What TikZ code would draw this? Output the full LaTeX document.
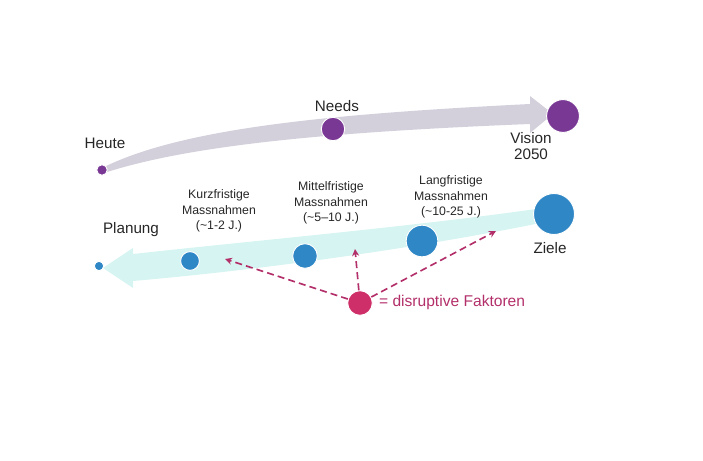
\documentclass[tikz,border=0pt]{standalone}
\usepackage{fontspec}
\setmainfont{Liberation Sans}
\usetikzlibrary{arrows.meta}
\definecolor{violett}{HTML}{7A3895}
\definecolor{blau}{HTML}{2F87C6}
\definecolor{magenta}{HTML}{CF2F68}
\definecolor{strich}{HTML}{B32F6A}
\definecolor{grauband}{HTML}{D3CFDB}
\definecolor{tuerkisband}{HTML}{D6F4F1}
\tikzset{
  punkt/.style={circle, inner sep=0pt, draw=white, line width=0.8pt},
  gross/.style={font=\fontsize{13}{14}\selectfont, text=black!85},
  klein/.style={font=\fontsize{10.5}{13.5}\selectfont, text=black!85, align=center},
  stoerung/.style={draw=strich, line width=1.4pt, dash pattern=on 6pt off 3.5pt, -{Stealth[length=6pt,width=6pt]}}
}
\begin{document}
\begin{tikzpicture}[x=0.03cm, y=-0.03cm]
    \useasboundingbox (0,0) rectangle (703,461);
    % Band oben
    \fill[grauband] (100,169) .. controls (180,128) and (330,114) .. (530,104)
        -- (530,96) -- (553,114) -- (530,133) -- (530,124)
        .. controls (330,132) and (190,145) .. (104,173) -- cycle;
    % Band unten
    \fill[tuerkisband] (550,207) .. controls (420,226) and (250,241) .. (133,254)
        -- (133,248) -- (103,268) -- (133,288) -- (133,281)
        .. controls (260,270) and (420,248) .. (550,221) -- cycle;
    % Punkte oben
    \node[punkt, fill=violett, minimum size=9pt] (heute) at (102,170) {};
    \node[punkt, fill=violett, minimum size=20pt] (needs) at (333,129) {};
    \node[punkt, fill=violett, minimum size=28pt] (vision) at (563,116) {};
    \node[gross] at (105,143) {Heute};
    \node[gross] at (337,106) {Needs};
    \node[gross, align=center] at (531,146) {Vision\\2050};
    % Punkte unten
    \node[punkt, fill=blau, minimum size=8pt] (planung) at (99,266) {};
    \node[punkt, fill=blau, minimum size=16pt] (kurz) at (190,261) {};
    \node[punkt, fill=blau, minimum size=21pt] (mittel) at (305,256) {};
    \node[punkt, fill=blau, minimum size=27pt] (lang) at (422,241) {};
    \node[punkt, fill=blau, minimum size=35pt] (ziele) at (554,214) {};
    \node[gross] at (131,230) {Planung};
    \node[klein] at (219,211) {Kurzfristige\\Massnahmen\\(\textasciitilde1-2 J.)};
    \node[klein] at (331,203) {Mittelfristige\\Massnahmen\\(\textasciitilde5–10 J.)};
    \node[klein] at (451,197) {Langfristige\\Massnahmen\\(\textasciitilde10-25 J.)};
    \node[gross] at (550,248) {Ziele};
    % disruptive Faktoren
    \node[punkt, fill=magenta, minimum size=21pt] (faktor) at (360,303) {};
    \node[gross, text=strich, anchor=west, font=\fontsize{13.3}{14}\selectfont] at (375,302) {= disruptive Faktoren};
    \coordinate (ziel1) at (225,259);
    \coordinate (ziel2) at (355,249);
    \coordinate (ziel3) at (496,231);
    \draw[stoerung] (faktor) -- (ziel1);
    \draw[stoerung] (faktor) -- (ziel2);
    \draw[stoerung] (faktor) -- (ziel3);
\end{tikzpicture}
\end{document}
